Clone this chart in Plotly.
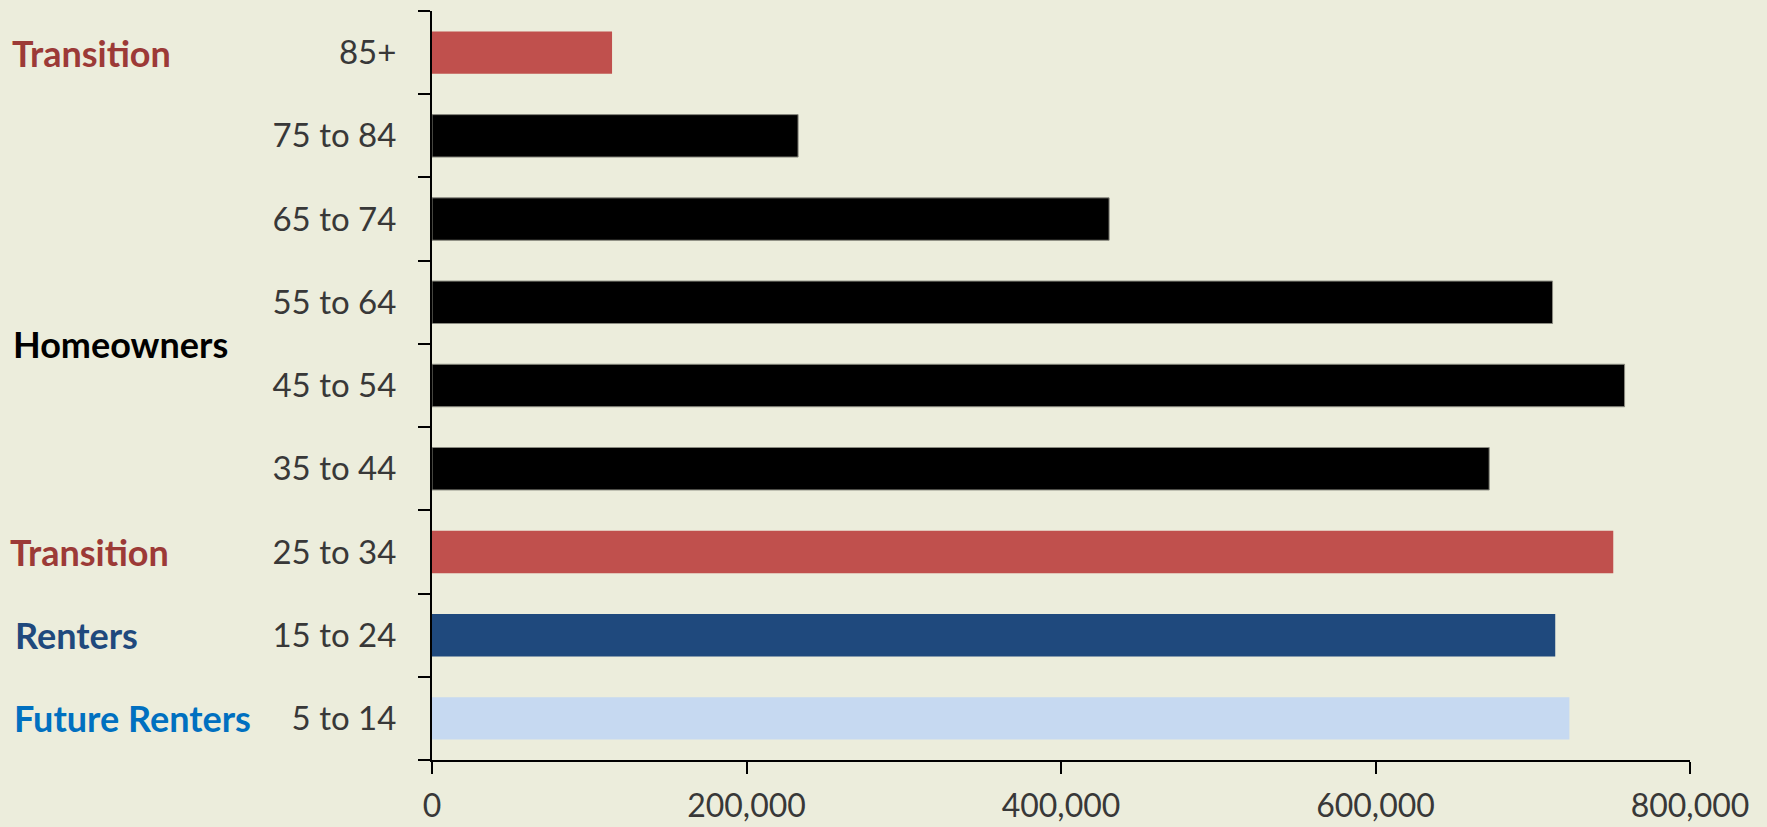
import plotly.graph_objects as go

# Population by age group (bottom to top)
age_groups = ["5 to 14", "15 to 24", "25 to 34", "35 to 44", "45 to 54",
              "55 to 64", "65 to 74", "75 to 84", "85+"]
population = [723300, 714300, 751200, 672300, 758400, 712600, 430600, 232800, 114500]

# Housing stage that each band of ages belongs to
stage_names = ["Future Renters", "Renters", "Transition", "Homeowners", "Transition"]
stage_rows = [0, 1, 2, 4.5, 8]

x_ticks = [0, 200000, 400000, 600000, 800000]

RED = "#C0504D"
BLACK = "#000000"
NAVY = "#1F497D"
PALE = "#C6D9F1"
bar_colors = [PALE, NAVY, RED, BLACK, BLACK, BLACK, BLACK, BLACK, RED]
outline_w = [0 if c != BLACK else 1 for c in bar_colors]
stage_colors = ["#0070C0", "#1F497D", "#9C3A37", "#000000", "#9C3A37"]
stage_x = [12, 13, 8, 11, 10]

BG = "#ECEDDC"
FONT = "Lato, 'Open Sans', sans-serif"

L, R, T, B = 432, 77, 11, 67

fig = go.Figure(
    go.Bar(
        y=age_groups,
        x=population,
        orientation="h",
        marker=dict(color=bar_colors,
                    line=dict(color="#8A8A80", width=outline_w)),
        hoverinfo="x+y",
    )
)

for name, row, color, px in zip(stage_names, stage_rows, stage_colors, stage_x):
    fig.add_annotation(
        text=f"<b>{name}</b>", xref="paper", yref="y",
        x=(px - L) / (1767 - L - R), y=row,
        xanchor="left", yanchor="middle", showarrow=False,
        font=dict(family=FONT, size=36, color=color),
    )

fig.update_layout(
    width=1767, height=827,
    margin=dict(l=L, r=R, t=T, b=B, pad=0, autoexpand=False),
    paper_bgcolor=BG, plot_bgcolor=BG,
    bargap=0.49,
    showlegend=False,
    font=dict(family=FONT, size=33, color="#383838"),
    xaxis=dict(
        range=[0, 800000], tickvals=x_ticks,
        ticktext=[f"{v:,}" for v in x_ticks],
        tickfont=dict(size=32),
        showgrid=False, zeroline=False, automargin=False,
        showline=True, linecolor="#000000", linewidth=2,
        ticks="outside", ticklen=12, tickwidth=2, tickcolor="#000000",
        ticklabelstandoff=5,
    ),
    yaxis=dict(
        type="category", categoryorder="array", categoryarray=age_groups,
        range=[-0.5, 8.5], automargin=False,
        showgrid=False, zeroline=False,
        showline=True, linecolor="#000000", linewidth=2,
        ticks="outside", ticklen=12, tickwidth=2, tickcolor="#000000",
        tickson="boundaries",
        ticklabelstandoff=27,
    ),
)

fig.write_html("out.html")
